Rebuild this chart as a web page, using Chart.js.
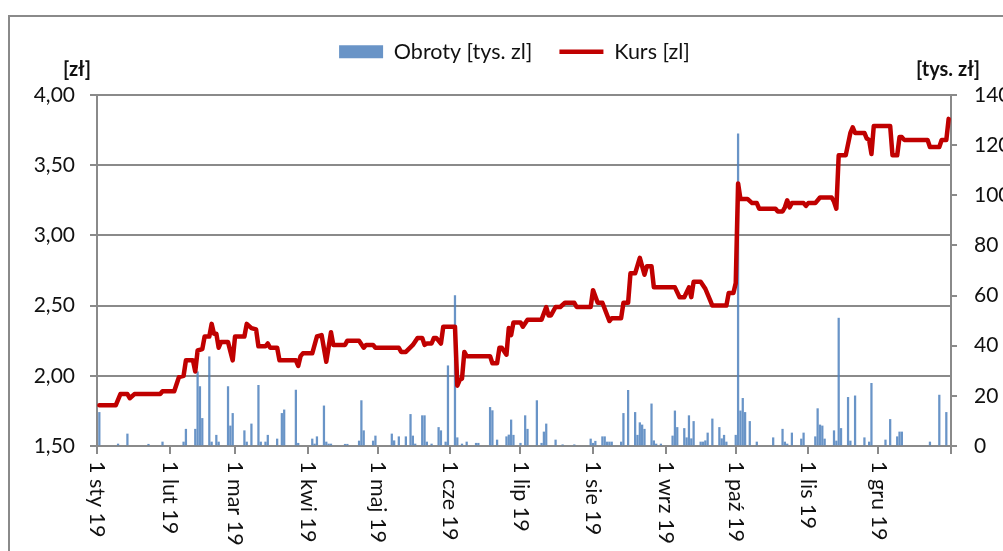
<!DOCTYPE html>
<html>
<head>
<meta charset="utf-8">
<script src="https://cdn.jsdelivr.net/npm/chart.js@4/dist/chart.umd.min.js"></script>
<style>
html, body { margin: 0; padding: 0; background: #fff; overflow: hidden; }
#wrap { width: 1003px; height: 551px; }
</style>
</head>
<body>
<div id="wrap"><canvas id="myChart" width="1003" height="551"></canvas></div>
<script>
// x = day of 2019 (0 = 1 sty)
const monthDays = [0, 31, 59, 90, 120, 151, 181, 212, 243, 273, 304, 334]
const monthLabels = ['1 sty 19', '1 lut 19', '1 mar 19', '1 kwi 19', '1 maj 19', '1 cze 19',
    '1 lip 19', '1 sie 19', '1 wrz 19', '1 paź 19', '1 lis 19', '1 gru 19']
const yearEnd = 365

const kursTicks = [1.5, 2.0, 2.5, 3.0, 3.5, 4.0]
const obrotyTicks = [0, 20, 40, 60, 80, 100, 120, 140]

// Kurs [zl] - vertices of the closing price line
const kursDays = [1, 8, 10, 13, 14, 16, 27, 28,
    33, 35, 37, 38, 41, 42, 43, 45, 46, 48, 49, 50, 51, 52, 53, 56, 58,
    59, 63, 64, 66, 68, 69, 72, 73, 74, 77, 78, 85, 86, 87, 88,
    92, 94, 96, 98, 100, 101, 106, 107, 112, 114, 115, 118,
    119, 129, 130, 132, 135, 137, 139, 140, 141, 143, 144, 145, 147, 148,
    153, 154, 155, 156, 157, 158, 168, 169, 171, 172, 173, 175, 176, 177, 178,
    181, 182, 184, 190, 192, 193, 194, 196, 198, 200, 204, 205, 211,
    212, 214, 216, 219, 220, 224, 225, 227, 228, 230, 232, 234, 235, 237, 238,
    247, 249, 251, 253, 254, 255, 258, 260, 262, 263, 269, 270, 272,
    273, 274, 275, 278, 280, 282, 283, 290, 291, 293, 294, 295, 296, 297, 302, 303,
    304, 307, 309, 314, 315, 316, 317, 320, 322, 323, 324, 328, 329, 330, 331, 332,
    339, 340, 342, 343, 344, 345, 355, 356, 360, 361, 363, 364]
const kursValues = [1.79, 1.79, 1.87, 1.87, 1.84, 1.87, 1.87, 1.89,
    1.89, 1.99, 2.00, 2.11, 2.11, 2.03, 2.18, 2.19, 2.28, 2.28, 2.37, 2.30, 2.30, 2.20, 2.24, 2.24, 2.11,
    2.28, 2.28, 2.37, 2.34, 2.33, 2.21, 2.21, 2.23, 2.20, 2.20, 2.11, 2.11, 2.07, 2.14, 2.16,
    2.16, 2.28, 2.29, 2.10, 2.31, 2.22, 2.22, 2.25, 2.25, 2.20, 2.22, 2.22,
    2.20, 2.20, 2.17, 2.17, 2.22, 2.27, 2.27, 2.22, 2.23, 2.23, 2.27, 2.27, 2.23, 2.35,
    2.35, 1.93, 1.97, 1.98, 2.17, 2.14, 2.14, 2.09, 2.09, 2.20, 2.20, 2.15, 2.34, 2.29, 2.38,
    2.38, 2.35, 2.40, 2.40, 2.49, 2.43, 2.43, 2.49, 2.49, 2.52, 2.52, 2.49, 2.49,
    2.61, 2.52, 2.52, 2.39, 2.41, 2.41, 2.52, 2.52, 2.73, 2.73, 2.84, 2.72, 2.78, 2.78, 2.63,
    2.63, 2.56, 2.56, 2.63, 2.56, 2.67, 2.67, 2.62, 2.54, 2.50, 2.50, 2.59, 2.59,
    2.66, 3.37, 3.26, 3.26, 3.23, 3.23, 3.19, 3.19, 3.17, 3.17, 3.20, 3.25, 3.20, 3.23, 3.23, 3.21,
    3.23, 3.23, 3.27, 3.27, 3.24, 3.19, 3.57, 3.57, 3.73, 3.77, 3.73, 3.73, 3.69, 3.68, 3.58, 3.78,
    3.78, 3.57, 3.57, 3.70, 3.70, 3.68, 3.68, 3.63, 3.63, 3.68, 3.68, 3.83]

// Obroty [tys. zl] - daily turnover
const obrotyDays = [1, 9, 13, 22, 28, 37, 38, 42, 43, 44, 45, 48, 49, 51, 52, 56, 57, 58,
    63, 64, 66, 69, 70, 72, 73, 77, 79, 80, 85, 86,
    92, 93, 94, 97, 98, 99, 100, 106, 107, 112, 113, 114, 118, 119,
    126, 127, 129, 132, 134, 135, 136, 139, 140, 141, 143, 146, 147, 149, 150,
    153, 154, 156, 158, 162, 163, 168, 169, 171, 175, 176, 177, 178,
    181, 183, 184, 188, 190, 191, 192, 196, 199, 204, 211,
    212, 213, 216, 217, 218, 219, 220, 224, 225, 227, 230, 231, 232, 233, 234, 237, 238, 239, 241,
    246, 247, 248, 251, 252, 253, 254, 255, 258, 259, 260, 261, 263, 266, 267, 268, 269,
    273, 274, 275, 276, 277, 279, 282, 289, 293, 294, 295, 297, 301, 302,
    307, 308, 309, 310, 311, 315, 316, 317, 318, 321, 322, 324, 328, 330, 331,
    337, 339, 342, 343, 344, 356, 360, 363]
const obrotyValues = [13.4, 0.8, 4.8, 0.7, 1.6, 1.6, 6.7, 6.7, 29.6, 23.7, 11, 35.6, 1.6, 4.3, 1.6, 23.7, 8, 13,
    6.1, 1.6, 8.8, 24.2, 1.6, 1.6, 4.3, 2.8, 13, 14.4, 22.3, 1.1,
    2.8, 0.8, 3.7, 16, 1.6, 0.8, 0.8, 0.7, 0.7, 2, 18.1, 6.1, 2, 4,
    4.8, 2.1, 3.7, 3.7, 12.6, 4, 0.8, 12.1, 12.1, 1.6, 0.8, 7.4, 6.1, 1.6, 32,
    60, 3.3, 0.8, 1.6, 1.1, 1.1, 15.4, 14.1, 2.4, 3.7, 4.4, 10.4, 4.3,
    1.1, 12.1, 6.7, 18.1, 1.1, 5.6, 8.8, 2.4, 0.5, 0.5, 2.8,
    1.1, 1.9, 3.7, 3.7, 1.6, 1.6, 1.6, 1.6, 13, 22.2, 13.4, 4.3, 9.3, 8.4, 6.7, 16.8, 2.1, 0.8, 0.8,
    4, 14, 7.4, 7, 3.3, 12.1, 2.9, 9.8, 1.6, 1.6, 2.1, 5.2, 10.8, 7.4, 2.9, 4.3, 1.6,
    4.3, 124.5, 14, 19, 13.4, 9.8, 1.6, 3.3, 6.7, 1.6, 0.8, 5.2, 2.8, 5.2,
    3.7, 14.9, 8.4, 8, 2.8, 6.1, 2, 51, 7, 19.4, 2, 20, 3.3, 1.6, 25,
    2.4, 10.6, 3.7, 5.6, 5.6, 1.6, 20.3, 13.4]

const gridColor = '#8a8a8a'
const fontFamily = 'Lato, "Open Sans", sans-serif'

// frame round the chart, rotated month labels and the unit titles
const decorations = {
    id: 'decorations',
    beforeDraw (chart) {
        const ctx = chart.ctx
        ctx.save()
        ctx.strokeStyle = gridColor
        ctx.lineWidth = 2
        ctx.strokeRect(9, 16, 1300, 900)
        ctx.restore()
    },
    afterDraw (chart) {
        const ctx = chart.ctx
        const xScale = chart.scales.x
        const area = chart.chartArea
        ctx.save()
        ctx.fillStyle = '#111'
        ctx.font = '21.5px ' + fontFamily
        ctx.textAlign = 'left'
        ctx.textBaseline = 'middle'
        monthDays.forEach((d, i) => {
            ctx.save()
            ctx.translate(xScale.getPixelForValue(d), area.bottom + 15)
            ctx.rotate(Math.PI / 2)
            ctx.fillText(monthLabels[i], 0, 0)
            ctx.restore()
        })
        ctx.font = 'bold 20px ' + fontFamily
        ctx.textAlign = 'center'
        ctx.fillText('[zł]', area.left - 20, area.top - 25)
        ctx.fillText('[tys. zł]', area.right - 3, area.top - 25)
        ctx.restore()
    }
}

// make the legend block end where the plot area starts
const legendSpace = {
    id: 'legendSpace',
    beforeInit (chart) {
        const fit = chart.legend.fit
        chart.legend.fit = function () {
            fit.call(this)
            this.height = 81
        }
    }
}

const ctx = document.getElementById('myChart')
const myChart = new Chart(ctx, {
    type: 'bar',
    data: {
        datasets: [{
            type: 'bar',
            label: 'Obroty [tys. zl]',
            data: obrotyDays.map((d, i) => ({ x: d, y: obrotyValues[i] })),
            backgroundColor: 'rgba(79, 129, 189, 0.85)',
            borderWidth: 0,
            barThickness: 1.6,
            yAxisID: 'y2',
            pointStyle: 'rect',
            order: 1
        }, {
            type: 'line',
            label: 'Kurs [zl]',
            data: kursDays.map((d, i) => ({ x: d, y: kursValues[i] })),
            borderColor: '#c00000',
            backgroundColor: '#c00000',
            borderWidth: 4.5,
            borderJoinStyle: 'round',
            borderCapStyle: 'round',
            pointRadius: 0,
            pointStyle: 'line',
            tension: 0,
            yAxisID: 'y',
            order: 0
        }]
    },
    options: {
        responsive: false,
        animation: false,
        devicePixelRatio: 1,
        layout: { padding: { top: 14, left: 26, right: 0, bottom: 0 } },
        plugins: {
            tooltip: { enabled: false },
            legend: {
                position: 'top',
                labels: {
                    usePointStyle: true,
                    pointStyleWidth: 44,
                    boxHeight: 13,
                    padding: 27,
                    color: '#111',
                    font: { family: fontFamily, size: 21.5 },
                    sort: (a, b) => a.datasetIndex - b.datasetIndex
                }
            }
        },
        scales: {
            x: {
                type: 'linear',
                offset: false,
                min: 0,
                max: yearEnd,
                afterBuildTicks: s => { s.ticks = monthDays.concat([yearEnd]).map(v => ({ value: v })) },
                afterFit: s => { s.height = 105 },
                ticks: { display: false },
                grid: { offset: false, drawOnChartArea: false, drawTicks: true, tickLength: 8, color: gridColor, lineWidth: 2 },
                border: { display: true, color: gridColor, width: 2 }
            },
            y: {
                position: 'left',
                min: 1.5,
                max: 4,
                afterBuildTicks: s => { s.ticks = kursTicks.map(v => ({ value: v })) },
                afterFit: s => { s.width = 71 },
                ticks: {
                    callback: v => v.toFixed(2).replace('.', ','),
                    color: '#111',
                    padding: 15,
                    font: { family: fontFamily, size: 21 }
                },
                grid: { color: gridColor, lineWidth: 2, tickLength: 7 },
                border: { display: true, color: gridColor, width: 2 }
            },
            y2: {
                position: 'right',
                min: 0,
                max: 140,
                afterBuildTicks: s => { s.ticks = obrotyTicks.map(v => ({ value: v })) },
                afterFit: s => { s.width = 52 },
                ticks: {
                    color: '#111',
                    padding: 17,
                    font: { family: fontFamily, size: 21 }
                },
                grid: { drawOnChartArea: false, color: gridColor, lineWidth: 2, tickLength: 6 },
                border: { display: true, color: gridColor, width: 2 }
            }
        }
    },
    plugins: [decorations, legendSpace]
})
</script>
</body>
</html>
